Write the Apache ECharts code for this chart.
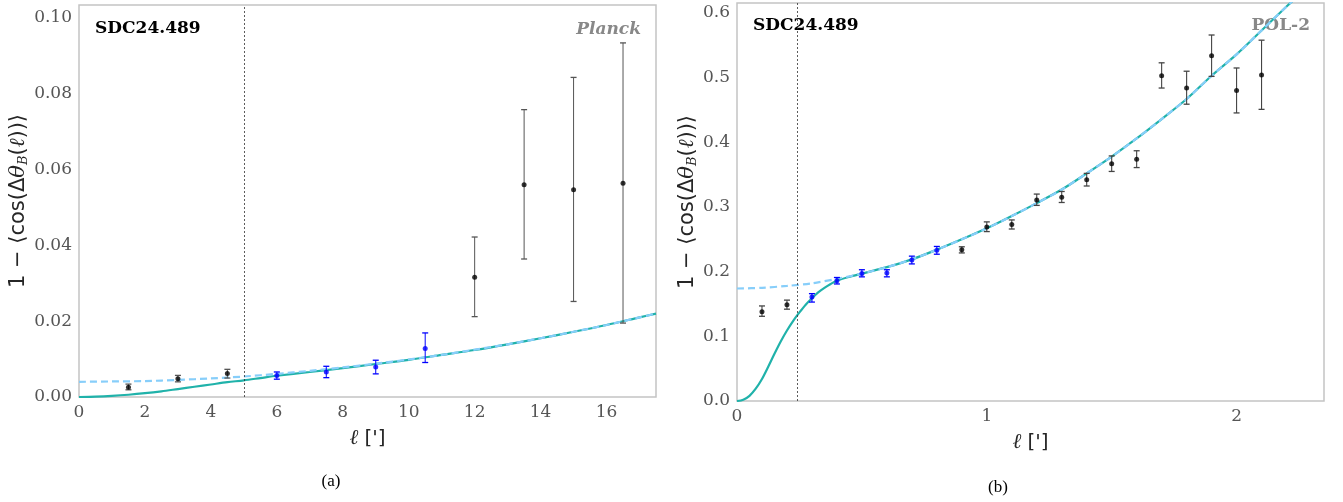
<!DOCTYPE html>
<html>
<head>
<meta charset="utf-8">
<script src="https://cdn.jsdelivr.net/npm/echarts@6/dist/echarts.min.js"></script>
<style>
html,body{margin:0;padding:0;background:#fff;}
#chart{width:1343px;height:502px;}
</style>
</head>
<body>
<div id="chart"></div>
<script>
// ---------- Panel (a): Planck ----------
const planckX  = [1.5, 3, 4.5, 6, 7.5, 9, 10.5, 12, 13.5, 15, 16.5];
const planckY  = [0.0026, 0.0048, 0.0062, 0.0057, 0.0066, 0.0079, 0.0128, 0.0316, 0.0560, 0.0547, 0.0564];
const planckLo = [0.0019, 0.0040, 0.0050, 0.0047, 0.0051, 0.0061, 0.0091, 0.0212, 0.0364, 0.0252, 0.0195];
const planckHi = [0.0034, 0.0057, 0.0073, 0.0066, 0.0081, 0.0097, 0.0169, 0.0422, 0.0758, 0.0843, 0.0934];
const planckFitted = [0, 0, 0, 1, 1, 1, 1, 0, 0, 0, 0];
const planckBeamLine = 5;

const planckSolidX = [0, 0.5, 1, 1.5, 2, 2.5, 3, 3.5, 4, 4.5, 5, 5.5, 6, 7, 8, 9, 10, 11, 12, 13, 14, 15, 16, 17, 17.5];
const planckSolidY = [0, 0.0001, 0.0003, 0.0006, 0.0010, 0.0015, 0.0021, 0.0027, 0.0033, 0.0039, 0.0044, 0.0050, 0.0056, 0.0066, 0.0076, 0.0087, 0.0098, 0.0111, 0.0124, 0.0139, 0.0155, 0.0172, 0.0190, 0.0210, 0.0220];
const planckDashX  = [0, 1, 2, 3, 4, 5, 6, 7, 8, 9, 10, 11, 12, 13, 14, 15, 16, 17, 17.5];
const planckDashY  = [0.0040, 0.0041, 0.0042, 0.0045, 0.0049, 0.0054, 0.0061, 0.0069, 0.0078, 0.0088, 0.0099, 0.0111, 0.0125, 0.0139, 0.0155, 0.0172, 0.0190, 0.0210, 0.0220];

// ---------- Panel (b): POL-2 ----------
const polX  = [0.1, 0.2, 0.3, 0.4, 0.5, 0.6, 0.7, 0.8, 0.9, 1.0, 1.1, 1.2, 1.3, 1.4, 1.5, 1.6, 1.7, 1.8, 1.9, 2.0, 2.1];
const polY  = [0.138, 0.149, 0.161, 0.186, 0.197, 0.198, 0.218, 0.233, 0.234, 0.269, 0.273, 0.311, 0.315, 0.342, 0.367, 0.374, 0.503, 0.484, 0.534, 0.480, 0.504];
const polLo = [0.131, 0.142, 0.153, 0.181, 0.192, 0.192, 0.212, 0.227, 0.229, 0.262, 0.266, 0.3025, 0.307, 0.3325, 0.355, 0.361, 0.484, 0.459, 0.502, 0.4455, 0.451];
const polHi = [0.147, 0.156, 0.166, 0.191, 0.203, 0.203, 0.224, 0.239, 0.2385, 0.277, 0.280, 0.320, 0.324, 0.352, 0.379, 0.387, 0.523, 0.510, 0.566, 0.515, 0.558];
const polFitted = [0, 0, 1, 1, 1, 1, 1, 1, 0, 0, 0, 0, 0, 0, 0, 0, 0, 0, 0, 0, 0];
const polBeamLine = 0.242;

const polSolidX = [0, 0.025, 0.05, 0.075, 0.1, 0.125, 0.15, 0.175, 0.2, 0.225, 0.25, 0.275, 0.3, 0.325, 0.35, 0.375, 0.4, 0.45, 0.5, 0.6, 0.7, 0.8, 0.9, 1.0, 1.1, 1.2, 1.3, 1.4, 1.5, 1.6, 1.7, 1.8, 1.9, 2.0, 2.1, 2.2, 2.25];
const polSolidY = [0, 0.002, 0.008, 0.019, 0.034, 0.053, 0.073, 0.092, 0.109, 0.124, 0.137, 0.149, 0.159, 0.168, 0.175, 0.181, 0.186, 0.192, 0.197, 0.207, 0.219, 0.234, 0.250, 0.267, 0.286, 0.306, 0.327, 0.352, 0.378, 0.406, 0.436, 0.467, 0.503, 0.536, 0.573, 0.610, 0.628];
const polDashX  = [0, 0.1, 0.2, 0.3, 0.4, 0.5, 0.6, 0.7, 0.8, 0.9, 1.0, 1.1, 1.2, 1.3, 1.4, 1.5, 1.6, 1.7, 1.8, 1.9, 2.0, 2.1, 2.2, 2.25];
const polDashY  = [0.174, 0.175, 0.178, 0.182, 0.189, 0.197, 0.207, 0.219, 0.234, 0.250, 0.267, 0.286, 0.306, 0.327, 0.352, 0.378, 0.406, 0.436, 0.467, 0.503, 0.536, 0.573, 0.610, 0.628];

// ---------- Tick / text labels ----------
const planckXTicks = [0, 2, 4, 6, 8, 10, 12, 14, 16];
const planckYTicks = [0, 0.02, 0.04, 0.06, 0.08, 0.10];
const polXTicks = [0, 1, 2];
const polYTicks = [0, 0.1, 0.2, 0.3, 0.4, 0.5, 0.6];
const yAxisTitle = '1 − ⟨cos(Δ{i|θ}{sub|B}({i|ℓ}))⟩';
const xAxisTitle = '{i|ℓ} [\']';
const objectName = 'SDC24.489';
const leftTag = 'Planck';
const rightTag = 'POL-2';
const captions = ['(a)', '(b)'];

// ---------- helpers ----------
const zip = (xs, ys) => xs.map((x, i) => [x, ys[i]]);
const pick = (xs, ys, flags, want) => xs.map((x, i) => [x, ys[i]]).filter((_, i) => flags[i] === want);
const pickBars = (xs, lo, hi, flags, want) => xs.map((x, i) => [x, lo[i], hi[i]]).filter((_, i) => flags[i] === want);

const BLUE = '#0000ff';
const TEAL = '#20b2aa';
const SKY = '#87cefa';
const FRAME = '#c4c4c4';
const TICK = '#555555';

function errorBarSeries(data, xi, yi, color, width) {
  return {
    type: 'custom',
    xAxisIndex: xi, yAxisIndex: yi,
    data: data,
    encode: { x: 0, y: [1, 2] },
    silent: true,
    z: 4,
    renderItem: function (params, api) {
      const x = api.value(0);
      const p1 = api.coord([x, api.value(1)]);
      const p2 = api.coord([x, api.value(2)]);
      const c = 3;
      return {
        type: 'group',
        children: [
          { type: 'line', shape: { x1: p1[0], y1: p1[1], x2: p2[0], y2: p2[1] }, style: { stroke: color, lineWidth: width } },
          { type: 'line', shape: { x1: p1[0] - c, y1: p1[1], x2: p1[0] + c, y2: p1[1] }, style: { stroke: color, lineWidth: 1.3 } },
          { type: 'line', shape: { x1: p2[0] - c, y1: p2[1], x2: p2[0] + c, y2: p2[1] }, style: { stroke: color, lineWidth: 1.3 } }
        ]
      };
    }
  };
}

function pointSeries(data, xi, yi, color, size) {
  return {
    type: 'scatter', xAxisIndex: xi, yAxisIndex: yi, data: data,
    symbol: 'circle', symbolSize: size, z: 5, silent: true,
    itemStyle: { color: color }
  };
}

function curveSeries(data, xi, yi, color, dashed, width, z) {
  return {
    type: 'line', xAxisIndex: xi, yAxisIndex: yi, data: data,
    showSymbol: false, smooth: 0.3, clip: true, silent: true, z: z,
    lineStyle: { color: color, width: width, type: dashed ? [7, 4] : 'solid' }
  };
}

function beamLine(value, xi, yi) {
  return {
    type: 'line', xAxisIndex: xi, yAxisIndex: yi, data: [], silent: true,
    markLine: {
      symbol: 'none', silent: true, label: { show: false },
      lineStyle: { color: '#333', width: 0.8, type: [2, 2] },
      data: [{ xAxis: value }]
    }
  };
}

const nameRich = {
  i: { fontStyle: 'italic', fontFamily: 'DejaVu Serif', fontSize: 21, color: '#262626' },
  sub: { fontStyle: 'italic', fontFamily: 'DejaVu Serif', fontSize: 13, color: '#262626', padding: [10, 0, 0, 0] }
};
const xNameRich = {
  i: { fontStyle: 'italic', fontFamily: 'DejaVu Serif', fontSize: 21, color: '#262626' }
};

function xAxis(gi, max, interval, ticks) {
  return {
    type: 'value', gridIndex: gi, min: 0, max: max, interval: interval,
    axisLine: { show: false }, axisTick: { show: false }, splitLine: { show: false },
    axisLabel: { color: TICK, fontFamily: 'DejaVu Serif', fontSize: 17, margin: 7, customValues: ticks },
    name: xAxisTitle, nameLocation: 'middle', nameGap: 31,
    nameTextStyle: { color: '#262626', fontFamily: 'DejaVu Sans', fontSize: 20, rich: xNameRich }
  };
}
function yAxis(gi, max, interval, digits, ticks, gap) {
  return {
    type: 'value', gridIndex: gi, min: 0, max: max, interval: interval,
    axisLine: { show: false }, axisTick: { show: false }, splitLine: { show: false },
    axisLabel: { color: TICK, fontFamily: 'DejaVu Serif', fontSize: 17, margin: 7, customValues: ticks,
      formatter: v => v.toFixed(digits) },
    name: yAxisTitle, nameLocation: 'middle', nameRotate: 90, nameGap: gap,
    nameTextStyle: { color: '#262626', fontFamily: 'DejaVu Sans', fontSize: 21, rich: nameRich }
  };
}

const chart = echarts.init(document.getElementById('chart'), null, { renderer: 'canvas' });

const option = {
  backgroundColor: '#ffffff',
  animation: false,
  grid: [
    { left: 79, top: 5, width: 577, height: 392, show: true, borderColor: FRAME, borderWidth: 1.5, backgroundColor: 'transparent' },
    { left: 737, top: 3, width: 587, height: 398, show: true, borderColor: FRAME, borderWidth: 1.5, backgroundColor: 'transparent' }
  ],
  xAxis: [xAxis(0, 17.5, 2, planckXTicks), xAxis(1, 2.35, 1, polXTicks)],
  yAxis: [yAxis(0, 0.1034, 0.02, 2, planckYTicks, 48), yAxis(1, 0.6155, 0.1, 1, polYTicks, 38)],
  graphic: [
    { type: 'text', left: 95, top: 20, style: { text: objectName, font: 'bold 17px "DejaVu Serif"', fill: '#000' } },
    { type: 'text', left: 753, top: 17, style: { text: objectName, font: 'bold 17px "DejaVu Serif"', fill: '#000' } },
    { type: 'text', right: 1343 - 641, top: 21, style: { text: leftTag, font: 'italic bold 17px "DejaVu Serif"', fill: '#888', textAlign: 'right' } },
    { type: 'text', right: 1343 - 1310, top: 17, style: { text: rightTag, font: 'bold 17px "DejaVu Serif"', fill: '#888', textAlign: 'right' } },
    { type: 'text', x: 331, y: 482, style: { text: captions[0], font: '17px "Liberation Serif"', fill: '#000', textAlign: 'center', textVerticalAlign: 'middle' } },
    { type: 'text', x: 998, y: 488, style: { text: captions[1], font: '17px "Liberation Serif"', fill: '#000', textAlign: 'center', textVerticalAlign: 'middle' } }
  ],
  series: [
    beamLine(planckBeamLine, 0, 0),
    curveSeries(zip(planckSolidX, planckSolidY), 0, 0, TEAL, false, 2.2, 2),
    curveSeries(zip(planckDashX, planckDashY), 0, 0, SKY, true, 2.2, 3),
    errorBarSeries(pickBars(planckX, planckLo, planckHi, planckFitted, 0), 0, 0, '#555', 1),
    errorBarSeries(pickBars(planckX, planckLo, planckHi, planckFitted, 1), 0, 0, BLUE, 1),
    pointSeries(pick(planckX, planckY, planckFitted, 0), 0, 0, '#000', 5),
    pointSeries(pick(planckX, planckY, planckFitted, 1), 0, 0, BLUE, 5),

    beamLine(polBeamLine, 1, 1),
    curveSeries(zip(polSolidX, polSolidY), 1, 1, TEAL, false, 2.2, 2),
    curveSeries(zip(polDashX, polDashY), 1, 1, SKY, true, 2.2, 3),
    errorBarSeries(pickBars(polX, polLo, polHi, polFitted, 0), 1, 1, '#444', 1.1),
    errorBarSeries(pickBars(polX, polLo, polHi, polFitted, 1), 1, 1, BLUE, 1.1),
    pointSeries(pick(polX, polY, polFitted, 0), 1, 1, '#000', 5),
    pointSeries(pick(polX, polY, polFitted, 1), 1, 1, BLUE, 5)
  ]
};
chart.setOption(option);
</script>
</body>
</html>
